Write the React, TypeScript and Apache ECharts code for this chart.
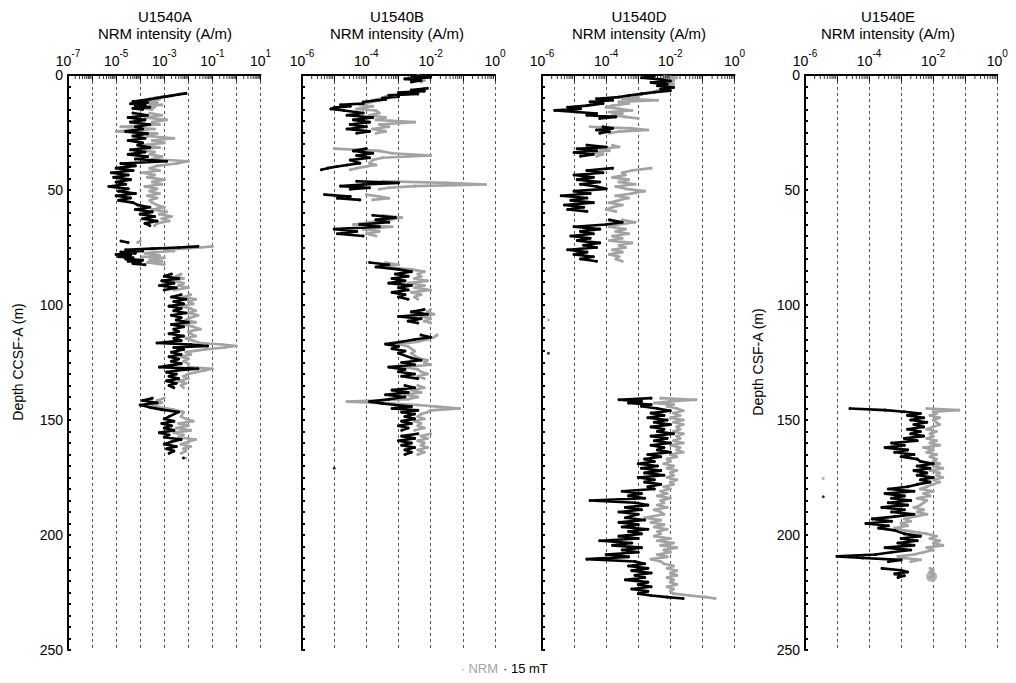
import React, { useEffect, useRef } from 'react';
import * as echarts from 'echarts';

// Each row: [depth (m), log10 of 15 mT intensity (A/m), log10 of NRM intensity (A/m)]; null = gap in record
type Row = [number, number, number] | null;

const rowsA: Row[] = [
  [8, -2.1, -2.2], [8.5, -2.4, -2.5], [9, -2.7, -2.8], [9.5, -3.0, -3.1], [10, -3.3, -3.4], [10.5, -3.6, -3.2],
  [11, -3.9, -3.5], [11.5, -4.3, -3.9], [12, -3.7, -3.3], [12.5, -4.4, -3.6], [13, -3.8, -3.1], [13.5, -4.2, -3.8],
  [14, -3.6, -3.4], [14.5, -4.3, -3.9], [15, -3.9, -3.5],
  null,
  [16.5, -4.3, -3.6], [17.5, -3.7, -3.1], [18.5, -4.5, -3.8], [19.5, -3.8, -2.9], [20.5, -4.4, -3.5], [21.5, -3.6, -3.2],
  [22.5, -4.2, -4.8], [23.5, -3.9, -3.4], [24.5, -4.6, -5.0], [25.5, -3.7, -3.3], [26.5, -4.3, -3.7], [27.5, -3.8, -2.6],
  [28.5, -4.5, -3.5], [29.5, -3.9, -3.0], [30.5, -4.1, -3.9], [31.5, -3.6, -3.2], [32.5, -4.4, -4.2], [33.5, -3.8, -3.4],
  [34.5, -4.5, -3.6], [35.5, -3.7, -3.1], [36.5, -4.2, -3.5],
  [37.5, -2.9, -2.0], [38.5, -4.8, -2.5], [39.5, -4.2, -3.3], [40.5, -5.0, -3.6], [41.5, -4.3, -3.2], [42.5, -5.2, -3.9],
  [43.5, -4.5, -3.4], [44.5, -5.1, -3.7], [45.5, -4.4, -3.0], [46.5, -5.0, -3.5], [47.5, -4.6, -3.1], [48.5, -5.3, -3.8],
  [49.5, -4.5, -3.3], [50.5, -4.9, -3.6], [51.5, -4.2, -3.2], [52.5, -5.0, -3.7], [53.5, -4.4, -3.3], [54.5, -4.9, -3.6],
  [55.5, -4.3, -3.5], [56.5, -4.1, -3.3], [57.5, -3.6, -3.0], [58.5, -4.2, -3.5], [59.5, -3.5, -2.9], [60.5, -4.0, -3.2],
  [61.5, -3.4, -2.7], [62.5, -3.9, -3.1], [63.5, -3.3, -2.8], [64.5, -3.8, -3.3], [65.5, -3.6, -3.4],
  null,
  [72.2, -4.8, -4.0], [72.8, -4.5, -4.1],
  null,
  [74.5, -1.6, -1.0], [75, -2.4, -1.5], [75.5, -3.5, -2.2], [76, -4.6, -3.0], [76.5, -3.9, -2.6], [77, -4.8, -3.4],
  [77.5, -4.2, -3.8], [78, -5.0, -3.5], [78.5, -4.4, -3.2], [79, -4.9, -3.9], [79.5, -4.3, -3.0], [80, -4.6, -3.4],
  [80.5, -3.9, -3.6], [81, -4.5, -3.1], [81.5, -4.0, -3.7], [82, -4.3, -3.3], [82.5, -3.8, -3.0],
  null,
  [86.5, -2.7, -2.3], [87.5, -3.0, -2.5], [88.5, -2.4, -2.2], [89.5, -3.1, -2.6], [90.5, -2.6, -2.2], [91.5, -3.2, -2.4],
  [92.5, -2.5, -2.0], [93.5, -3.0, -2.6],
  null,
  [95.5, -2.3, -1.9], [96.5, -2.7, -2.2], [97.5, -2.1, -1.7], [98.5, -2.6, -2.0], [99.5, -2.2, -1.8], [100.5, -2.8, -2.3],
  [101.5, -2.3, -1.9], [102.5, -2.6, -1.7], [103.5, -2.1, -2.0], [104.5, -2.7, -1.6], [105.5, -2.3, -1.9], [106.5, -2.5, -2.1],
  [107.5, -2.0, -1.7], [108.5, -2.7, -2.2], [109.5, -2.2, -1.8], [110.5, -2.6, -1.5], [111.5, -2.4, -2.0], [112.5, -2.8, -1.9],
  [113.5, -2.2, -1.7], [114.5, -2.6, -2.1], [115.5, -2.3, -1.8],
  [116.5, -3.3, -1.5], [117.2, -1.9, -0.6], [117.8, -1.2, 0.0], [118.5, -2.6, -0.5], [119.3, -2.2, -1.3],
  [120.5, -2.7, -2.1], [121.5, -2.3, -1.9], [122.5, -2.8, -2.3], [123.5, -2.4, -2.0], [124.5, -2.7, -2.2], [125.5, -2.3, -2.0],
  [127, -3.2, -2.0], [127.7, -1.6, -1.0], [128.4, -2.4, -1.3], [129.2, -2.9, -1.7], [130, -2.5, -2.0],
  [131, -2.8, -2.2], [132, -2.4, -2.0], [133, -2.9, -2.4], [134, -2.5, -2.1], [135, -2.8, -2.3], [136, -2.6, -2.2],
  null,
  [140.5, -3.5, -3.0], [141.5, -3.9, -3.3], [142.5, -3.3, -3.1], [143.5, -4.0, -3.5], [144.5, -3.6, -3.2], [145.5, -3.1, -2.6],
  [146.5, -2.4, -2.2], [148.5, -2.8, -2.3], [149.5, -3.0, -2.1], [150.5, -2.6, -1.8], [151.5, -3.1, -2.4], [152.5, -2.7, -2.0],
  [153.5, -3.0, -2.5], [154.5, -2.6, -1.9], [155.5, -3.2, -2.6], [156.5, -2.8, -2.2], [157.5, -3.0, -2.4],
  [158.5, -2.3, -1.7], [159.5, -2.7, -2.0], [160.5, -3.0, -2.3], [161.5, -2.5, -1.9], [162.5, -2.9, -2.2], [163.5, -2.6, -2.1],
  [164.5, -2.8, -2.3],
  null,
  [166.5, -2.2, -2.1],
];

const rowsB: Row[] = [
  [0.3, -2.6, -2.4], [1, -2.0, -2.1], [1.7, -2.8, -2.5], [2.4, -2.3, -2.2], [3, -2.6, -2.3],
  null,
  [5.8, -2.1, -2.2], [6.5, -2.6, -2.3], [7, -2.2, -2.5], [7.6, -3.0, -2.8], [8.2, -2.4, -2.7], [8.8, -3.3, -3.2],
  [9.4, -3.0, -3.4], [10, -3.5, -3.3], [10.6, -3.4, -3.7], [11.2, -3.8, -3.6], [11.8, -4.1, -3.9], [12.4, -4.1, -4.0],
  [13, -4.8, -4.2], [13.6, -4.5, -3.8], [14.2, -5.0, -4.0], [14.8, -5.1, -4.3], [15.4, -4.7, -3.7],
  [16.5, -4.1, -3.6], [17.5, -4.6, -3.9], [18.5, -3.8, -3.4], [19.5, -4.4, -3.7], [20.5, -3.9, -2.5], [21.5, -4.5, -3.6],
  [22.5, -4.0, -3.3], [23.5, -4.6, -3.8], [24.5, -3.9, -3.4], [25.3, -4.3, -3.7],
  null,
  [32, -4.0, -5.0], [33, -4.4, -3.6], [34, -3.8, -3.2], [35, -4.3, -2.0], [36, -3.9, -3.5], [37, -4.5, -3.8],
  [38.4, -4.2, -3.9], [39.1, -4.6, -3.7], [39.8, -4.9, -4.0], [40.5, -5.2, -4.3], [41.2, -5.4, -4.5],
  null,
  [46.2, -4.3, -3.5], [46.9, -3.0, -1.5], [47.6, -4.1, -0.3], [48.3, -4.8, -2.5], [49, -3.9, -3.3], [49.7, -4.5, -3.6],
  null,
  [52, -5.3, -4.0], [52.8, -4.5, -3.6], [53.6, -4.9, -3.3], [54.3, -4.2, -3.8],
  null,
  [61, -3.8, -3.5], [62, -3.1, -2.9], [63, -3.7, -3.3], [64, -3.3, -3.9], [65, -4.2, -4.4], [66, -3.6, -3.2],
  [67, -5.0, -4.1], [68, -4.3, -3.6], [69, -4.9, -4.0], [70, -4.1, -3.7],
  null,
  [81.5, -3.9, -3.4], [82.5, -3.3, -3.0], [83.5, -3.7, -3.5], [84.5, -3.0, -2.6], [85.5, -2.6, -2.2], [86.5, -3.1, -2.4],
  [87.5, -2.7, -2.3], [88.5, -3.2, -2.5], [89.5, -2.8, -2.1], [90.5, -3.3, -2.7], [91.5, -2.6, -2.2], [92.5, -3.0, -2.5],
  [93.5, -2.7, -2.0], [94.5, -3.2, -2.6], [95.5, -2.8, -2.3], [96.5, -3.0, -2.5], [97.5, -2.7, -2.4],
  null,
  [102, -2.2, -2.0], [103, -2.6, -2.1], [104, -2.1, -1.9], [105, -3.0, -2.3], [106, -2.3, -2.0], [107, -2.7, -2.2],
  [107.8, -2.4, -2.0],
  null,
  [113, -2.3, -1.8], [114, -2.0, -1.9], [115, -2.5, -2.1], [116, -2.9, -2.4], [117, -3.4, -3.0], [118, -3.0, -2.7],
  [119, -3.2, -2.6], [120, -2.8, -2.5], [121, -3.0, -2.6],
  [123, -2.6, -2.4], [124, -2.3, -2.1], [125, -2.9, -2.2], [126, -2.5, -2.0], [127, -3.3, -2.8], [128, -2.8, -2.4],
  [129, -3.0, -2.3], [130, -2.5, -2.1], [131, -2.9, -2.4], [132, -2.4, -2.2],
  null,
  [135, -2.8, -2.4], [136, -2.5, -2.2], [137, -3.2, -2.6], [138, -2.7, -2.3], [139, -3.4, -2.8], [140, -2.8, -2.4],
  [141, -3.3, -2.7], [142, -3.9, -4.6], [142.8, -3.5, -3.2], [143.5, -3.1, -2.4], [144.2, -2.6, -1.8], [145, -3.2, -1.1],
  [145.8, -2.4, -2.0], [146.6, -2.9, -2.1], [147.4, -2.5, -2.3],
  [148.5, -2.8, -2.4], [149.5, -2.5, -2.2], [150.5, -2.9, -2.5], [151.5, -2.6, -2.3], [152.5, -3.0, -2.4], [153.5, -2.7, -2.2],
  [154.5, -2.9, -2.5],
  null,
  [156, -2.4, -2.0], [157, -2.9, -2.3], [158, -2.5, -2.1], [159, -3.0, -2.4], [160, -2.6, -2.2], [161, -2.9, -2.3],
  [162, -2.5, -2.1], [163, -2.8, -2.4], [164, -2.6, -2.2], [165, -2.8, -2.4],
];

const rowsC: Row[] = [
  [0.5, -2.5, -2.2], [1.2, -2.9, -1.8], [1.9, -2.3, -2.0], [2.6, -2.0, -1.9], [3.3, -2.6, -2.1], [4, -2.1, -1.9],
  [4.7, -2.4, -2.2], [5.4, -1.9, -2.0], [6.1, -2.3, -2.1], [6.8, -2.0, -2.4], [7.5, -2.5, -2.6], [8.2, -2.9, -2.9],
  [8.9, -3.3, -3.1], [9.6, -3.6, -3.0], [10.3, -4.3, -3.5], [11, -3.8, -2.4], [11.7, -4.5, -3.6], [12.4, -4.1, -3.3],
  [13.3, -4.6, -3.8], [14, -5.2, -4.0], [14.7, -4.8, -3.6], [15.4, -5.6, -3.2], [16.1, -4.9, -3.9], [16.8, -4.3, -3.5],
  [17.5, -4.6, -3.8], [18.2, -3.7, -3.4], [18.9, -4.2, -3.0],
  null,
  [22.5, -4.1, -4.5], [23.2, -3.8, -3.2], [23.9, -4.3, -2.7], [24.6, -3.9, -3.6], [25.3, -4.2, -3.9],
  null,
  [30.5, -4.6, -3.8], [31.3, -4.0, -3.6], [32.1, -4.9, -4.2], [32.9, -4.3, -3.9], [33.7, -5.0, -4.4], [34.5, -4.4, -4.1],
  [35.3, -4.8, -4.3],
  null,
  [40.5, -3.8, -2.6], [41.5, -4.6, -3.2], [42.5, -4.1, -3.5], [43.5, -5.0, -3.4], [44.5, -4.4, -3.8], [45.5, -4.9, -3.3],
  [46.5, -4.2, -3.6], [47.5, -4.8, -3.1], [48.5, -4.3, -3.7], [49.5, -4.0, -3.4], [50.5, -5.0, -2.8], [51.5, -4.5, -3.2],
  [52.5, -5.4, -3.7], [53.5, -4.6, -3.3], [54.5, -5.1, -3.6], [55.5, -4.4, -3.9], [56.5, -5.3, -3.5], [57.5, -4.7, -3.8],
  [58.5, -5.2, -4.0], [59.3, -4.6, -3.7],
  null,
  [63, -3.9, -3.5], [64, -3.5, -3.1], [65, -4.0, -3.6], [66, -5.0, -3.9], [67, -4.2, -3.4], [68, -4.8, -3.7],
  [69, -4.4, -3.3], [70, -5.1, -3.8], [71, -4.5, -3.5], [72, -4.9, -3.9], [73, -4.2, -3.2], [74, -4.7, -3.6],
  [75, -4.3, -3.4], [76, -5.2, -3.8], [77, -4.6, -3.5], [78, -5.0, -3.9], [79, -4.4, -3.6], [80, -4.8, -3.7],
  [81, -4.3, -3.5],
  null,
  [140.5, -2.6, -2.3], [141.2, -3.6, -1.2], [141.9, -2.9, -2.0], [142.6, -3.3, -2.5], [143.3, -2.6, -1.9], [144, -2.9, -2.1],
  [145, -2.4, -1.8], [146, -2.0, -1.6], [147, -2.6, -1.9], [148, -2.2, -1.7], [149, -2.7, -2.0], [150, -2.1, -1.6],
  [151, -2.5, -1.9], [152, -2.0, -1.6], [153, -2.6, -1.8], [154, -2.2, -1.7], [155, -2.4, -1.9], [156, -1.9, -1.6],
  [157, -2.6, -1.8], [158, -2.1, -1.7], [159, -2.5, -1.9], [160, -2.0, -1.6], [161, -2.6, -2.0], [162, -2.2, -1.7],
  [163, -2.4, -1.8], [164, -2.0, -1.6], [165, -2.7, -2.0], [166, -2.3, -1.8], [167, -2.8, -2.1],
  [168, -2.5, -2.0], [169, -3.0, -2.2], [170, -2.4, -1.9], [171, -2.9, -2.1], [172, -2.3, -1.8], [173, -2.8, -2.0],
  [174, -2.2, -1.9], [175, -3.0, -2.1], [176, -2.5, -1.8], [177, -2.8, -2.0], [178, -2.3, -1.9], [179, -2.7, -2.2],
  [180, -2.5, -2.0], [181, -3.5, -2.3], [182, -2.9, -2.1], [183, -3.3, -2.4], [184, -2.8, -2.0], [185, -4.5, -2.3],
  [186, -3.1, -2.2], [187, -2.7, -2.4], [188, -3.4, -2.1], [189, -2.9, -2.5], [190, -3.6, -2.3], [191, -3.0, -2.2],
  [192.5, -3.4, -2.8], [193.5, -2.8, -2.3], [194.5, -3.6, -2.6], [195.5, -3.0, -2.2], [196.5, -3.5, -2.5],
  [197.5, -2.7, -2.1], [198.5, -3.3, -2.4], [199.5, -2.9, -2.3], [200.5, -3.6, -2.5], [201.5, -3.0, -2.0],
  [202.5, -4.2, -2.4], [203.5, -3.2, -1.9], [204.5, -3.8, -2.3], [205.5, -2.9, -1.8], [206.5, -3.5, -2.2],
  [207.5, -3.0, -2.0], [208.5, -4.0, -2.4], [209.5, -3.3, -2.1], [210.5, -4.6, -2.6], [211.5, -3.1, -2.3],
  [212.5, -2.8, -2.2], [213.5, -3.3, -1.9], [214.5, -2.7, -2.1], [215.5, -3.2, -1.8], [216.5, -2.6, -2.0],
  [217.5, -3.1, -1.8], [218.5, -2.8, -2.1], [219.5, -3.4, -1.9], [220.5, -2.7, -2.0], [221.5, -3.0, -1.8],
  [222.5, -2.6, -2.1], [223.5, -3.2, -1.9], [224.5, -2.7, -2.0], [225.5, -3.0, -1.9], [226.3, -2.6, -1.4],
  [227, -2.1, -0.9], [227.6, -1.6, -0.6],
];

const rowsD: Row[] = [
  [145, -4.6, -2.2], [145.7, -3.5, -1.2], [146.4, -2.9, -2.0], [147.2, -2.4, -1.9], [148, -2.8, -2.1], [149, -2.3, -1.8],
  [150, -2.7, -2.0], [151, -2.2, -1.9], [152, -2.6, -1.8], [153, -2.3, -2.0], [154, -2.8, -2.2], [155, -2.4, -1.9],
  [156, -2.7, -2.1], [157, -2.3, -2.0], [158, -2.9, -2.2], [159, -2.5, -1.9], [160, -3.3, -2.1], [161, -2.9, -1.8],
  [162, -3.5, -2.3], [163, -2.8, -2.0], [164, -3.2, -2.2], [165, -2.6, -1.9], [166, -3.0, -2.1], [167, -2.5, -1.9],
  [168, -2.4, -2.0], [169, -2.0, -1.8], [170, -2.5, -2.0], [171, -2.1, -1.7], [172, -2.6, -2.1], [173, -2.2, -1.8],
  [174, -2.5, -1.9], [175, -2.0, -1.7], [176, -2.4, -2.0], [177, -2.1, -1.8], [178, -2.5, -2.0],
  [179, -2.8, -2.2], [180, -3.4, -2.4], [181, -2.6, -2.0], [182, -3.5, -2.3], [183, -2.9, -2.1], [184, -3.3, -2.5],
  [185, -2.7, -2.2], [186, -3.4, -2.3], [187, -2.8, -2.4], [188, -3.6, -2.6], [189, -2.9, -2.3], [190, -3.3, -2.5],
  [191, -2.6, -2.2], [192, -3.2, -2.6], [193, -3.9, -2.9], [194, -3.3, -2.7], [195, -4.1, -3.0], [196, -3.4, -2.8],
  [197, -3.7, -3.2], [198, -3.2, -2.9],
  [199.5, -2.9, -2.2], [200.5, -2.4, -1.9], [201.5, -3.0, -2.1], [202.5, -2.5, -1.8], [203.5, -3.1, -2.0],
  [204.5, -2.6, -1.7], [205.5, -3.5, -2.2], [206.5, -2.7, -2.0], [207.5, -3.3, -2.3], [208.5, -3.8, -2.6],
  [209.3, -5.0, -3.1], [210, -4.2, -2.9], [210.8, -3.0, -2.4], [211.6, -3.4, -2.7],
  null,
  [214.5, -3.6, -2.1], [215.3, -3.0, -2.0], [216.1, -2.8, -2.1], [216.9, -3.2, -2.0], [217.7, -2.9, -2.0],
  [218.5, -3.1, -2.1],
];

// isolated points: [depth m, log10 intensity]
const outlier15B = [[171, -5.0]];
const outlierNrmB = [[163, -5.0]];
const outlier15C = [[121, -5.8]];
const outlierNrmC = [[106.5, -5.8]];
const outlier15D = [[183.4, -5.43]];
const outlierNrmD = [[175.4, -5.43]];
const largeNrmD = [[218, -2.05]];

const holeNames = ['U1540A', 'U1540B', 'U1540D', 'U1540E'];
const minorMultipliers = [2, 3, 4, 5, 6, 7, 8, 9];

const FONT = '"Liberation Sans", Arial, Helvetica, sans-serif';
const GRAY = '#a3a3a3';

export default function App() {
  const ref = useRef<HTMLDivElement>(null);

  useEffect(() => {
    if (!ref.current) return;
    const chart = echarts.init(ref.current, undefined, { renderer: 'svg' });

    const panels = [
      { rows: rowsA, left: 68, width: 192.5, minExp: -7, maxExp: 1, parity: 1, yLabels: true, o15: [] as number[][], oN: [] as number[][], big: [] as number[][], titleX: 165 },
      { rows: rowsB, left: 302, width: 193, minExp: -6, maxExp: 0, parity: 0, yLabels: false, o15: outlier15B, oN: outlierNrmB, big: [] as number[][], titleX: 397 },
      { rows: rowsC, left: 542, width: 192.5, minExp: -6, maxExp: 0, parity: 0, yLabels: false, o15: outlier15C, oN: outlierNrmC, big: [] as number[][], titleX: 639 },
      { rows: rowsD, left: 805, width: 192.3, minExp: -6, maxExp: 0, parity: 0, yLabels: true, o15: outlier15D, oN: outlierNrmD, big: largeNrmD, titleX: 888 },
    ];

    const grid: any[] = [];
    const xAxis: any[] = [];
    const yAxis: any[] = [];
    const series: any[] = [];
    const graphic: any[] = [];

    const toData = (rows: Row[], col: 1 | 2) =>
      rows.map((r) => (r ? [Math.pow(10, r[col]), r[0]] : ['-', '-']));
    const toPts = (pts: number[][]) => pts.map((p) => [Math.pow(10, p[1]), p[0]]);

    panels.forEach((p, i) => {
      grid.push({ left: p.left, top: 75, width: p.width, height: 575, containLabel: false });
      xAxis.push({
        gridIndex: i,
        type: 'log',
        logBase: 10,
        min: Math.pow(10, p.minExp),
        max: Math.pow(10, p.maxExp),
        splitNumber: p.maxExp - p.minExp,
        position: 'top',
        axisLine: { show: true, lineStyle: { color: '#000', width: 2 } },
        axisTick: { show: true, inside: true, length: 6, lineStyle: { color: '#000', width: 1 } },
        axisLabel: {
          show: true,
          margin: 7,
          formatter: (v: number) => {
            const e = Math.round(Math.log10(v));
            if (Math.abs(e % 2) !== p.parity) return '';
            return `{b|10}{s|${e}}`;
          },
          rich: {
            b: { fontSize: 14, fontFamily: FONT, color: '#000', lineHeight: 20, verticalAlign: 'bottom' },
            s: { fontSize: 10, fontFamily: FONT, color: '#000', lineHeight: 8, verticalAlign: 'top' },
          },
        },
        splitLine: { show: true, lineStyle: { color: '#555', width: 1, type: [3, 3] } },
      });
      yAxis.push({
        gridIndex: i,
        type: 'value',
        inverse: true,
        min: 0,
        max: 250,
        interval: 5,
        axisLine: { show: true, lineStyle: { color: '#000', width: 2 } },
        axisTick: { show: true, inside: true, length: 3, lineStyle: { color: '#000', width: 2 } },
        axisLabel: {
          show: p.yLabels,
          margin: 5,
          fontSize: 14,
          fontFamily: FONT,
          color: '#000',
          formatter: (v: number) => (v % 50 === 0 ? String(v) : ''),
        },
        splitLine: { show: false },
      });

      // minor log ticks along the top axis
      const minor: number[][] = [];
      for (let e = p.minExp; e < p.maxExp; e++) {
        minorMultipliers.forEach((m) => minor.push([m * Math.pow(10, e), 0]));
      }
      series.push({
        type: 'scatter', xAxisIndex: i, yAxisIndex: i, data: minor, symbol: 'rect',
        symbolSize: [1, 4], symbolOffset: [0, 2], itemStyle: { color: '#000' }, silent: true, clip: false, z: 5,
      });

      const lineCommon = {
        type: 'line', xAxisIndex: i, yAxisIndex: i, connectNulls: false, symbol: 'circle',
        symbolSize: 3, showSymbol: true, silent: true, clip: true,
      };
      series.push({
        ...lineCommon, name: 'NRM', data: toData(p.rows, 2),
        lineStyle: { color: GRAY, width: 2.6, join: 'round' }, itemStyle: { color: GRAY }, z: 2,
      });
      series.push({
        type: 'scatter', xAxisIndex: i, yAxisIndex: i, data: toPts(p.oN), symbolSize: 3,
        itemStyle: { color: GRAY }, silent: true, z: 2,
      });
      if (p.big.length) {
        series.push({
          type: 'scatter', xAxisIndex: i, yAxisIndex: i, data: toPts(p.big), symbolSize: 11,
          itemStyle: { color: GRAY }, silent: true, z: 2,
        });
      }
      series.push({
        ...lineCommon, name: '15 mT', data: toData(p.rows, 1),
        lineStyle: { color: '#000', width: 2.6, join: 'round' }, itemStyle: { color: '#000' }, z: 3,
      });
      series.push({
        type: 'scatter', xAxisIndex: i, yAxisIndex: i, data: toPts(p.o15), symbolSize: 3,
        itemStyle: { color: '#000' }, silent: true, z: 3,
      });

      graphic.push({
        type: 'text', x: p.titleX, y: 16,
        style: { text: holeNames[i], fontSize: 15, fontFamily: FONT, fill: '#000', align: 'center', verticalAlign: 'middle', textAlign: 'center', textVerticalAlign: 'middle' },
      });
      graphic.push({
        type: 'text', x: p.titleX, y: 33,
        style: { text: 'NRM intensity (A/m)', fontSize: 15, fontFamily: FONT, fill: '#000', align: 'center', verticalAlign: 'middle', textAlign: 'center', textVerticalAlign: 'middle' },
      });
    });

    graphic.push({
      type: 'text', x: 18, y: 362, rotation: Math.PI / 2,
      style: { text: 'Depth CCSF-A (m)', fontSize: 14, fontFamily: FONT, fill: '#000', align: 'center', verticalAlign: 'middle', textAlign: 'center', textVerticalAlign: 'middle' },
    });
    graphic.push({
      type: 'text', x: 758, y: 362, rotation: Math.PI / 2,
      style: { text: 'Depth CSF-A (m)', fontSize: 14, fontFamily: FONT, fill: '#000', align: 'center', verticalAlign: 'middle', textAlign: 'center', textVerticalAlign: 'middle' },
    });
    graphic.push({
      type: 'text', x: 498, y: 668,
      style: { text: '· NRM', fontSize: 13, fontFamily: FONT, fill: GRAY, align: 'right', verticalAlign: 'middle', textAlign: 'right', textVerticalAlign: 'middle' },
    });
    graphic.push({
      type: 'text', x: 503, y: 668,
      style: { text: '· 15 mT', fontSize: 13, fontFamily: FONT, fill: '#000', align: 'left', verticalAlign: 'middle', textAlign: 'left', textVerticalAlign: 'middle' },
    });

    chart.setOption({
      animation: false,
      backgroundColor: '#fff',
      grid,
      xAxis,
      yAxis,
      series,
      graphic,
    });

    return () => chart.dispose();
  }, []);

  return <div ref={ref} style={{ position: 'fixed', left: 0, top: 0, width: 1016, height: 683, background: '#fff' }} />;
}
